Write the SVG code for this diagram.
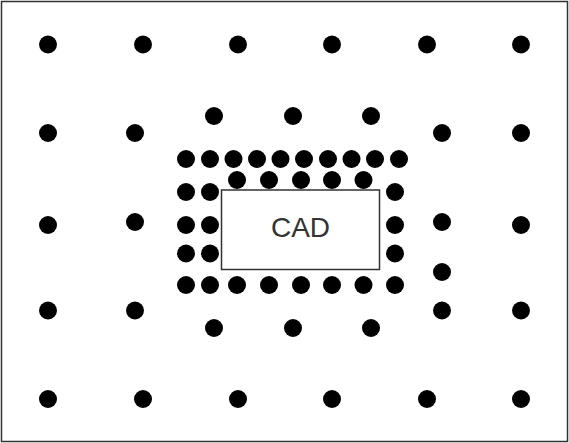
<svg xmlns="http://www.w3.org/2000/svg" width="569" height="443" viewBox="0 0 569 443">
<style>
.d{fill:#000}
.frame{fill:#fff;stroke:#333;stroke-width:1.5}
.box{fill:#fff;stroke:#333;stroke-width:1.5}
.lbl{font-family:"Liberation Sans",Arial,sans-serif;font-size:28px;fill:#333;text-anchor:middle}
</style>
<rect class="frame" x="1.5" y="1.5" width="566" height="440"/>
<g id="dots">
<circle class="d" cx="48" cy="44.5" r="9"/><circle class="d" cx="143" cy="44.5" r="9"/><circle class="d" cx="238" cy="44.5" r="9"/><circle class="d" cx="332" cy="44.5" r="9"/><circle class="d" cx="427" cy="44.5" r="9"/><circle class="d" cx="521" cy="44.5" r="9"/>
<circle class="d" cx="48" cy="133" r="9"/><circle class="d" cx="135" cy="133" r="9"/><circle class="d" cx="442" cy="133" r="9"/><circle class="d" cx="521" cy="133" r="9"/>
<circle class="d" cx="214" cy="116" r="9"/><circle class="d" cx="293" cy="116" r="9"/><circle class="d" cx="371" cy="116" r="9"/>
<circle class="d" cx="186" cy="159" r="9"/><circle class="d" cx="210" cy="159" r="9"/><circle class="d" cx="233.5" cy="159" r="9"/><circle class="d" cx="257" cy="159" r="9"/><circle class="d" cx="280.5" cy="159" r="9"/><circle class="d" cx="304" cy="159" r="9"/><circle class="d" cx="328" cy="159" r="9"/><circle class="d" cx="351.5" cy="159" r="9"/><circle class="d" cx="375" cy="159" r="9"/><circle class="d" cx="399" cy="159" r="9"/>
<circle class="d" cx="237" cy="180" r="9"/><circle class="d" cx="269" cy="180" r="9"/><circle class="d" cx="301" cy="180" r="9"/><circle class="d" cx="332" cy="180" r="9"/><circle class="d" cx="363.5" cy="180" r="9"/>
<circle class="d" cx="186" cy="192" r="9"/><circle class="d" cx="210" cy="192" r="9"/><circle class="d" cx="395" cy="192" r="9"/>
<circle class="d" cx="48" cy="225" r="9"/><circle class="d" cx="135" cy="222" r="9"/><circle class="d" cx="186" cy="225" r="9"/><circle class="d" cx="210" cy="225" r="9"/><circle class="d" cx="395" cy="225" r="9"/><circle class="d" cx="442" cy="222" r="9"/><circle class="d" cx="521" cy="225" r="9"/>
<circle class="d" cx="186" cy="253.5" r="9"/><circle class="d" cx="210" cy="253.5" r="9"/><circle class="d" cx="395" cy="253.5" r="9"/>
<circle class="d" cx="442" cy="272" r="9"/>
<circle class="d" cx="186" cy="285" r="9"/><circle class="d" cx="210" cy="285" r="9"/><circle class="d" cx="237" cy="285" r="9"/><circle class="d" cx="269" cy="285" r="9"/><circle class="d" cx="301" cy="285" r="9"/><circle class="d" cx="332" cy="285" r="9"/><circle class="d" cx="363.5" cy="285" r="9"/><circle class="d" cx="395" cy="285" r="9"/>
<circle class="d" cx="48" cy="310.5" r="9"/><circle class="d" cx="135" cy="310.5" r="9"/><circle class="d" cx="442" cy="310.5" r="9"/><circle class="d" cx="521" cy="310.5" r="9"/>
<circle class="d" cx="214" cy="328" r="9"/><circle class="d" cx="293" cy="328" r="9"/><circle class="d" cx="371" cy="328" r="9"/>
<circle class="d" cx="48" cy="399" r="9"/><circle class="d" cx="143" cy="399" r="9"/><circle class="d" cx="238" cy="399" r="9"/><circle class="d" cx="332" cy="399" r="9"/><circle class="d" cx="427" cy="399" r="9"/><circle class="d" cx="521" cy="399" r="9"/>
</g>
<g id="cad">
<rect class="box" x="221.5" y="190" width="158" height="79.5"/>
<text class="lbl" x="300.5" y="237">CAD</text>
</g>
</svg>
